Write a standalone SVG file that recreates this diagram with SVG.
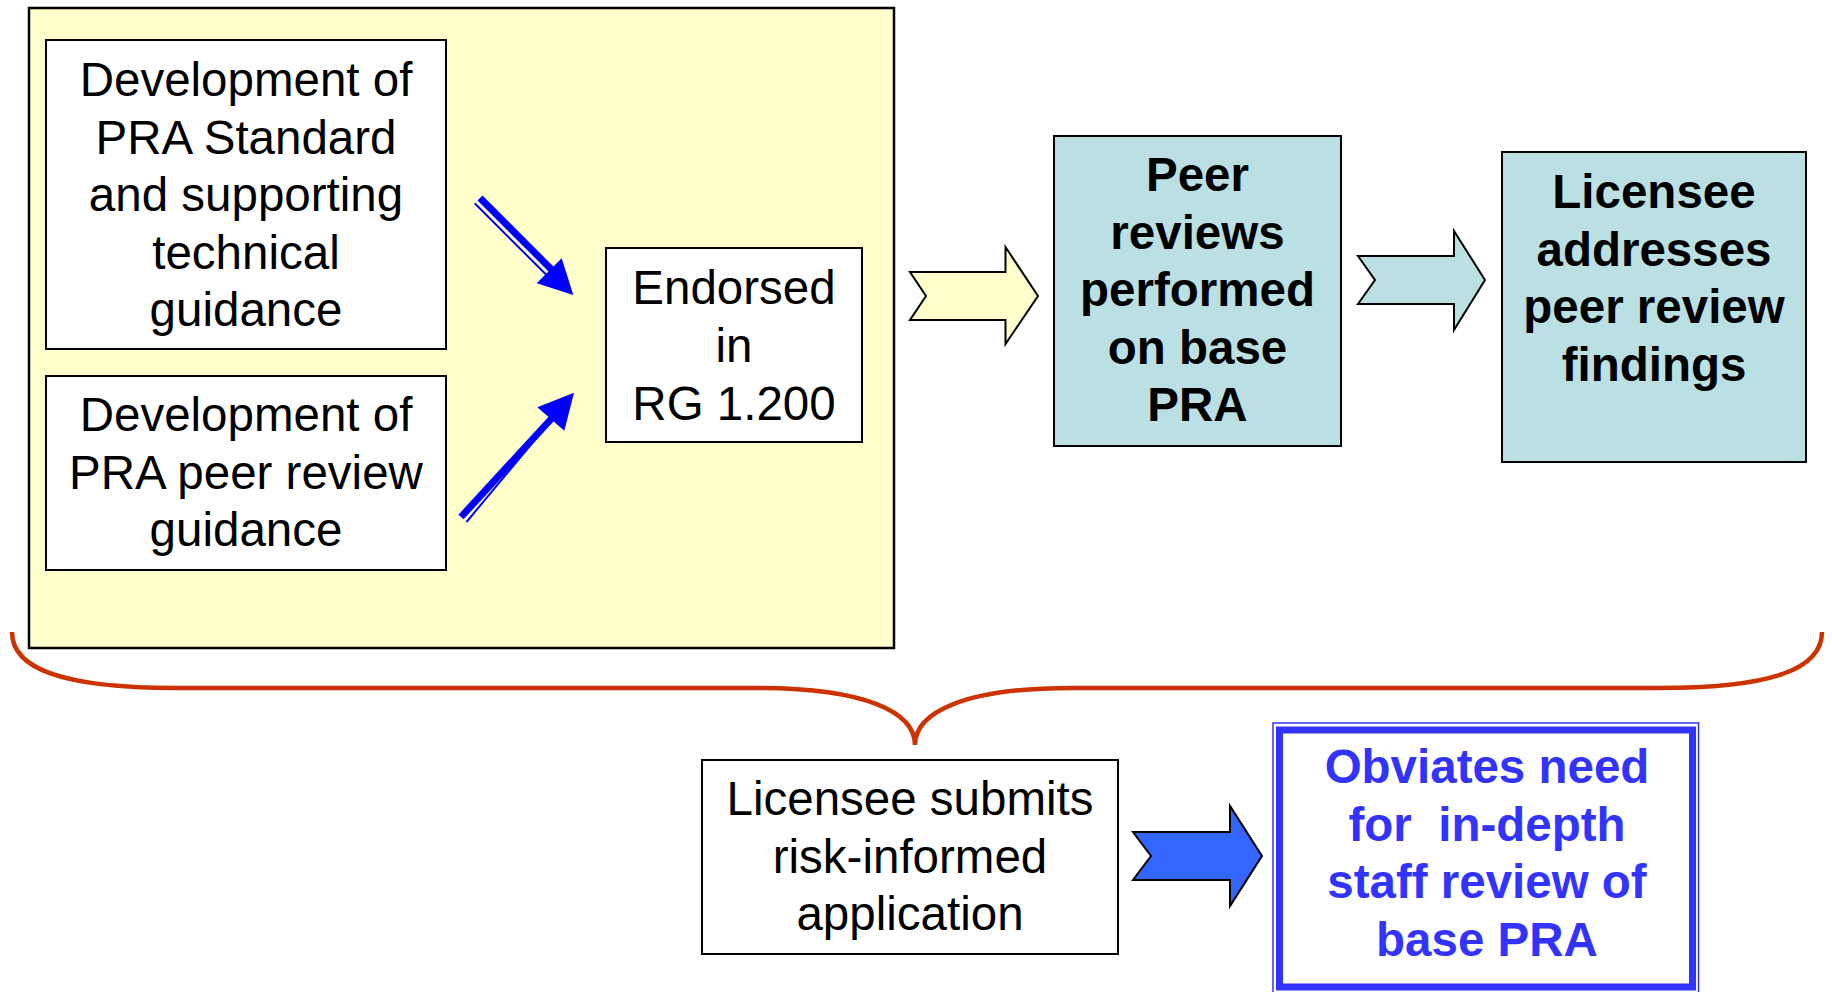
<svg xmlns="http://www.w3.org/2000/svg" width="1832" height="992" viewBox="0 0 1832 992">
<style>
.t{font-family:"Liberation Sans",Arial,sans-serif;font-size:47.5px;text-anchor:middle;fill:#000}
.b{font-weight:bold}
.bl{fill:#3333FF}
.box{fill:#fff;stroke:#000;stroke-width:2}
.teal{fill:#BBE0E3;stroke:#000;stroke-width:2}
.blue{stroke:#0000FF;fill:none}
</style>
<rect width="1832" height="992" fill="#fff"/>
<g id="container">
<rect x="29" y="8" width="865" height="640" fill="#FFFFCC" stroke="#000" stroke-width="2.5"/>
</g>
<g id="node-standard">
<rect class="box" x="46" y="40" width="400" height="309"/>
<text class="t" x="246" y="96">Development of</text>
<text class="t" x="246" y="153.5">PRA Standard</text>
<text class="t" x="246" y="211">and supporting</text>
<text class="t" x="246" y="268.5">technical</text>
<text class="t" x="246" y="326">guidance</text>
</g>
<g id="node-peerguidance">
<rect class="box" x="46" y="376" width="400" height="194"/>
<text class="t" x="246" y="431">Development of</text>
<text class="t" x="246" y="488.5">PRA peer review</text>
<text class="t" x="246" y="546">guidance</text>
</g>
<g id="node-endorsed">
<rect class="box" x="606" y="248" width="256" height="194"/>
<text class="t" x="734" y="304">Endorsed</text>
<text class="t" x="734" y="362">in</text>
<text class="t" x="734" y="420">RG 1.200</text>
</g>
<g id="node-peerreviews">
<rect class="teal" x="1054" y="136" width="287" height="310"/>
<text class="t b" x="1197.5" y="191">Peer</text>
<text class="t b" x="1197.5" y="248.5">reviews</text>
<text class="t b" x="1197.5" y="306">performed</text>
<text class="t b" x="1197.5" y="363.5">on base</text>
<text class="t b" x="1197.5" y="421">PRA</text>
</g>
<g id="node-addresses">
<rect class="teal" x="1502" y="152" width="304" height="310"/>
<text class="t b" x="1654" y="208">Licensee</text>
<text class="t b" x="1654" y="265.5">addresses</text>
<text class="t b" x="1654" y="323">peer review</text>
<text class="t b" x="1654" y="380.5">findings</text>
</g>
<g id="node-submits">
<rect class="box" x="702" y="760" width="416" height="194"/>
<text class="t" x="910" y="815">Licensee submits</text>
<text class="t" x="910" y="872.5">risk-informed</text>
<text class="t" x="910" y="930">application</text>
</g>
<g id="node-obviates">
<rect x="1273" y="723" width="425.5" height="272" fill="#fff" stroke="#3333FF" stroke-width="1.5"/>
<rect x="1279.5" y="730" width="413" height="257" fill="none" stroke="#3333FF" stroke-width="7"/>
<text class="t b bl" x="1487" y="783">Obviates need</text>
<text class="t b bl" x="1487" y="840.5" xml:space="preserve">for  in-depth</text>
<text class="t b bl" x="1487" y="898">staff review of</text>
<text class="t b bl" x="1487" y="955.5">base PRA</text>
</g>
<g id="connectors">
<line class="blue" x1="480" y1="198" x2="552" y2="270" stroke-width="7"/>
<line class="blue" x1="474.7" y1="203.3" x2="546.5" y2="275" stroke-width="2"/>
<polygon points="573.3,295 536.7,283.3 561.7,258.3" fill="#0000FF"/>
<line class="blue" x1="461" y1="517" x2="553" y2="417" stroke-width="7"/>
<line class="blue" x1="466.5" y1="522" x2="548" y2="424" stroke-width="2"/>
<polygon points="574,392.7 537.3,407.3 564.3,430.7" fill="#0000FF"/>
<polygon points="910,272 1005.5,272 1005.5,247 1038,296 1005.5,344 1005.5,320 910,320 926,296" fill="#FFFFCC" stroke="#000" stroke-width="2"/>
<polygon points="1358,256 1454,256 1454,231 1485,280 1454,330 1454,304 1358,304 1375,280" fill="#BBE0E3" stroke="#000" stroke-width="2"/>
<polygon points="1133,832 1230,832 1230,806 1262,856 1230,906 1230,880 1133,880 1151,856" fill="#3366FF" stroke="#000" stroke-width="2"/>
<path d="M12,632 C12,668 60,688 175,688 L758,688 C865,688 915,712 915,745 C915,712 965,688 1072,688 L1658,688 C1775,688 1822,668 1822,632" fill="none" stroke="#CC3300" stroke-width="4.5"/>
</g>
</svg>
